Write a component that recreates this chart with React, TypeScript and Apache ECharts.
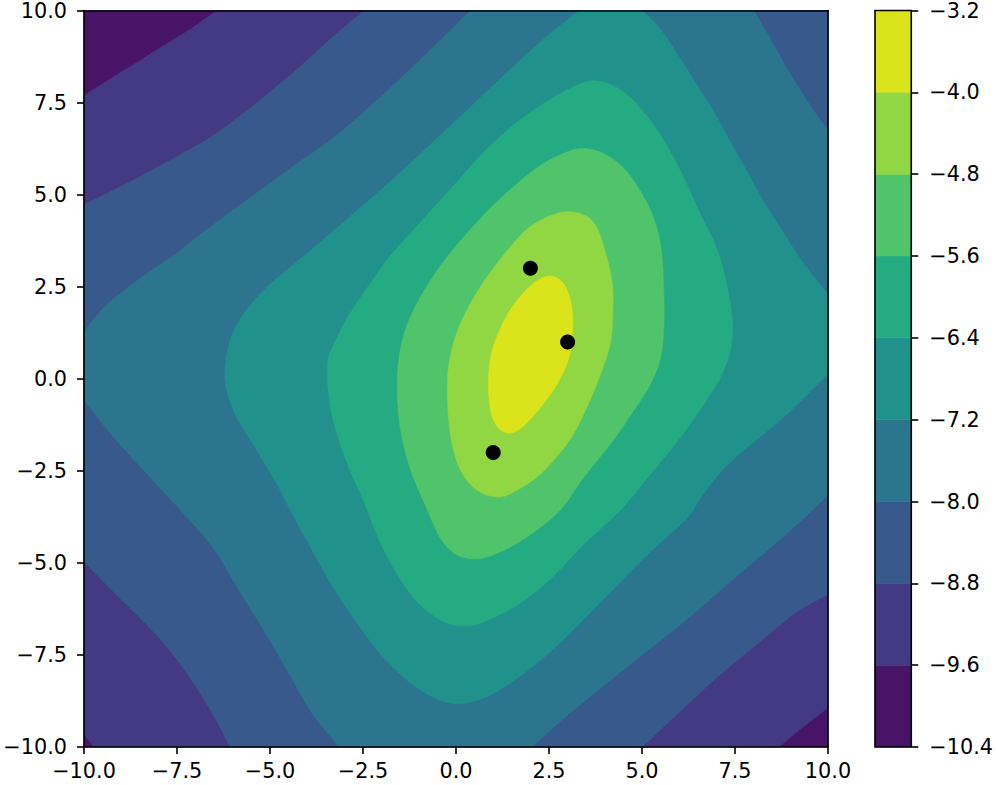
import React, { useEffect, useRef } from "react";
import * as echarts from "echarts";

// contour levels and band colours (viridis)
const levels = [-10.4, -9.6, -8.8, -8.0, -7.2, -6.4, -5.6, -4.8, -4.0, -3.2];
const bandColors = ["#481467", "#443983", "#38598c", "#2b758e", "#21918c", "#25ab82", "#50c46a", "#90d743", "#dbe31a"];

// plot extent
const domain: number[][] = [[-10, -10], [10, -10], [10, 10], [-10, 10]];

// superlevel regions (region where value >= level)
const regionAbove96: number[][] = [
  [-10, 7.69], [-9.3, 8.14], [-8.58, 8.59], [-7.87, 9.04], [-7.15, 9.49], [-6.43, 10],
  [10, 10], [10, -8.94], [9.35, -9.44], [8.68, -10], [-9.73, -10], [-10, -9.67],
];
const regionAbove88: number[][] = [
  [-10, 4.73], [-8.76, 5.35], [-7.6, 5.98], [-6.52, 6.61], [-5.45, 7.42], [-4.37, 8.32], [-3.23, 9.36], [-2.47, 10],
  [10, 10], [10, -5.86], [9.17, -6.33], [8.28, -7.05], [7.2, -7.95], [6.13, -8.94], [5.01, -10],
  [-6.08, -10], [-6.43, -9.3], [-6.97, -8.4], [-7.6, -7.5], [-8.31, -6.69], [-9.21, -5.79], [-10, -4.97],
];
const regionAbove80: number[][] = [
  [-10, 1.3], [-9.4, 2.0], [-8.6, 2.65], [-7.6, 3.35], [-6.5, 4.2], [-5.45, 4.98], [-4.37, 5.78],
  [-3.25, 6.58], [-2.2, 7.5], [-1.04, 8.59], [0.39, 10],
  [8.01, 10], [8.46, 9.22], [8.91, 8.41], [9.35, 7.69], [9.71, 7.15], [10, 6.74],
  [10, -3.16], [9.5, -3.65], [8.64, -4.43], [7.47, -5.43], [6.13, -6.6], [4.78, -7.68], [3.46, -8.76], [2.81, -9.3], [2.05, -10],
  [-3.15, -10], [-3.84, -9.13], [-4.37, -8.22], [-5.09, -6.96], [-5.81, -5.79], [-6.52, -4.61], [-7.42, -3.56],
  [-8.31, -2.58], [-9.21, -1.58], [-10, -0.59],
];
const regionAbove72: number[][] = [
  [3.31, 10], [5.01, 10], [5.5, 9.49], [6.04, 8.68], [6.49, 7.96], [6.94, 7.24], [7.38, 6.43], [7.83, 5.62],
  [8.28, 4.8], [8.73, 4.08], [9.2, 3.34], [9.6, 2.8], [10, 2.3], [10, 0.13],
  [8.82, -1.04], [7.74, -1.94], [7.1, -2.55], [6.6, -3.2], [6.2, -3.8], [5.23, -4.7], [4.34, -5.61], [3.46, -6.51],
  [2.55, -7.41], [1.65, -8.13], [0.75, -8.67], [-0.14, -8.81], [-1.04, -8.4], [-1.85, -7.68], [-2.56, -6.78], [-3.28, -5.7],
  [-3.9, -4.6], [-4.46, -3.56], [-4.82, -2.85], [-5.36, -1.94], [-5.9, -1.04], [-6.16, -0.32], [-6.21, 0.22],
  [-6.08, 1.03], [-5.72, 1.75], [-5.09, 2.48], [-4.19, 3.25], [-3.2, 4.1], [-1.67, 5.45], [-0.05, 6.97], [1.56, 8.5], [2.45, 9.31],
];
const regionAbove64: number[][] = [
  [-3.46, 0.04], [-3.43, 0.58], [-3.28, 0.94], [-2.92, 1.66], [-2.38, 2.48], [-1.78, 3.32], [-0.95, 4.26], [-0.14, 5.16],
  [0.75, 6.16], [1.65, 6.97], [2.55, 7.6], [3.46, 8.05], [3.98, 8.05], [4.52, 7.78], [5.05, 7.24], [5.5, 6.61], [5.86, 5.98],
  [6.22, 5.26], [6.58, 4.44], [6.94, 3.72], [7.15, 3.1], [7.33, 2.3], [7.43, 1.48], [7.38, 0.76], [7.11, 0.04], [6.67, -0.68],
  [6.04, -1.58], [5.32, -2.48], [4.43, -3.56], [3.46, -4.47], [2.55, -5.43], [1.65, -6.15], [0.75, -6.6], [0.3, -6.71],
  [-0.32, -6.6], [-1.04, -6.06], [-1.67, -5.16], [-2.12, -4.25], [-2.45, -3.4], [-2.92, -2.31], [-3.28, -1.22], [-3.4, -0.59],
];
const regionAbove56: number[][] = [
  [-1.58, -0.32], [-1.53, 0.58], [-1.31, 1.48], [-0.86, 2.39], [-0.23, 3.32], [0.57, 4.26], [1.38, 5.07], [2.28, 5.8],
  [2.99, 6.16], [3.46, 6.25], [3.98, 6.11], [4.52, 5.71], [4.97, 5.07], [5.32, 4.35], [5.52, 3.5], [5.58, 2.5],
  [5.59, 1.48], [5.5, 0.58], [5.23, -0.14], [4.78, -0.86], [4.16, -1.76], [3.44, -2.67], [2.81, -3.56],
  [2.1, -4.16], [1.38, -4.61], [0.66, -4.88], [0.04, -4.79], [-0.41, -4.34], [-0.77, -3.56], [-1.22, -2.48], [-1.49, -1.4],
];
const regionAbove48: number[][] = [
  [-0.19, 0.4], [0.04, 1.3], [0.48, 2.21], [1.02, 3.02], [1.74, 3.9], [2.28, 4.31], [2.9, 4.53],
  [3.46, 4.44], [3.8, 4.08], [4.05, 3.3], [4.2, 2.6], [4.22, 1.94], [4.16, 1.03], [3.89, 0.13], [3.44, -0.95],
  [2.99, -1.76], [2.28, -2.58], [1.56, -3.07], [1.11, -3.21], [0.57, -3.03], [0.12, -2.48], [-0.14, -1.58], [-0.23, -0.5],
];
const regionAbove40: number[][] = [
  [2.55, 2.79], [2.9, 2.57], [3.1, 2.02], [3.14, 1.3], [3.04, 0.58], [2.72, -0.14], [2.28, -0.77], [1.83, -1.27],
  [1.47, -1.48], [1.16, -1.36], [0.95, -0.95], [0.87, -0.23], [0.93, 0.58], [1.16, 1.3], [1.56, 2.02], [2.1, 2.61],
];

const regions = [domain, regionAbove96, regionAbove88, regionAbove80, regionAbove72, regionAbove64, regionAbove56, regionAbove48, regionAbove40];

// the three points
const pointsX = [2, 3, 1];
const pointsY = [3, 1, -2];

const FONT = "DejaVu Sans";
const FS = 20.8;
const fmt = (v: number) => {
  const s = (Math.round(v * 10) / 10).toFixed(1);
  return s === "-0.0" ? "0.0" : s.replace("-", "\u2212");
};

// closed smooth outline through pixel points; segments along the frame stay straight
function outline(px: number[][], onEdge: boolean[]): string {
  const n = px.length;
  const P = (i: number) => px[((i % n) + n) % n];
  const E = (i: number) => onEdge[((i % n) + n) % n];
  let d = `M${P(0)[0]},${P(0)[1]}`;
  for (let i = 0; i < n; i++) {
    const a = P(i), b = P(i + 1);
    if (E(i) && E(i + 1)) {
      d += `L${b[0]},${b[1]}`;
      continue;
    }
    const prev = P(i - 1), next = P(i + 2);
    const c1 = E(i)
      ? [a[0] + (b[0] - a[0]) / 3, a[1] + (b[1] - a[1]) / 3]
      : [a[0] + (b[0] - prev[0]) / 6, a[1] + (b[1] - prev[1]) / 6];
    const c2 = E(i + 1)
      ? [b[0] - (b[0] - a[0]) / 3, b[1] - (b[1] - a[1]) / 3]
      : [b[0] - (next[0] - a[0]) / 6, b[1] - (next[1] - a[1]) / 6];
    d += `C${c1[0]},${c1[1]} ${c2[0]},${c2[1]} ${b[0]},${b[1]}`;
  }
  return d + "Z";
}

export default function App() {
  const ref = useRef<HTMLDivElement>(null);
  useEffect(() => {
    const chart = echarts.init(ref.current!, undefined, { renderer: "svg" });
    const lineStyle = { color: "#000", width: 1.6 };
    const axisLabel = { fontFamily: FONT, fontSize: FS, color: "#000", formatter: fmt };
    const bands = bandColors.map((c, i) => [levels[i], levels[i + 1], i]);
    chart.setOption({
      animation: false,
      grid: [
        { left: 84, top: 8, width: 744, height: 739 },
        { left: 875, top: 8, width: 37, height: 739 },
      ],
      xAxis: [
        {
          type: "value", gridIndex: 0, min: -10, max: 10, interval: 2.5, position: "bottom", z: 10,
          axisLine: { show: true, onZero: false, lineStyle },
          axisTick: { show: true, length: 7, lineStyle },
          axisLabel: { ...axisLabel, margin: 13 },
          splitLine: { show: false },
        },
        {
          type: "value", gridIndex: 0, min: -10, max: 10, position: "top", z: 10,
          axisLine: { show: true, onZero: false, lineStyle },
          axisTick: { show: false }, axisLabel: { show: false }, splitLine: { show: false },
        },
        { type: "value", gridIndex: 1, min: 0, max: 1, show: false },
      ],
      yAxis: [
        {
          type: "value", gridIndex: 0, min: -10, max: 10, interval: 2.5, position: "left", z: 10,
          axisLine: { show: true, onZero: false, lineStyle },
          axisTick: { show: true, length: 7, lineStyle },
          axisLabel: { ...axisLabel, margin: 17 },
          splitLine: { show: false },
        },
        {
          type: "value", gridIndex: 0, min: -10, max: 10, position: "right", z: 10,
          axisLine: { show: true, onZero: false, lineStyle },
          axisTick: { show: false }, axisLabel: { show: false }, splitLine: { show: false },
        },
        {
          type: "value", gridIndex: 1, min: -10.4, max: -3.2, interval: 0.8, position: "right", z: 10,
          axisLine: { show: false, onZero: false },
          axisTick: { show: true, length: 7, lineStyle },
          axisLabel: { ...axisLabel, margin: 18, showMaxLabel: true, showMinLabel: true },
          splitLine: { show: false },
        },
      ],
      series: [
        {
          type: "custom",
          xAxisIndex: 0, yAxisIndex: 0,
          silent: true,
          z: 1,
          data: regions.map((_, i) => [0, 0, i]),
          renderItem: (params: any, api: any) => {
            const poly = regions[params.dataIndex];
            const pts = poly.map((p) => api.coord(p));
            const edge = poly.map((p) => Math.abs(p[0]) >= 9.999 || Math.abs(p[1]) >= 9.999);
            const c = bandColors[params.dataIndex];
            return {
              type: "path",
              shape: { pathData: outline(pts, edge) },
              style: { fill: c, stroke: c, lineWidth: 0.5 },
            };
          },
        },
        {
          type: "scatter",
          xAxisIndex: 0, yAxisIndex: 0,
          z: 5,
          symbolSize: 15,
          itemStyle: { color: "#000", opacity: 1 },
          data: pointsX.map((x, i) => [x, pointsY[i]]),
        },
        {
          type: "custom",
          xAxisIndex: 2, yAxisIndex: 2,
          silent: true,
          z: 1,
          data: bands,
          renderItem: (params: any, api: any) => {
            const lo = api.value(0);
            const hi = api.value(1);
            const a = api.coord([0, hi]);
            const b = api.coord([1, lo]);
            const c = bandColors[params.dataIndex];
            return {
              type: "rect",
              shape: { x: a[0], y: a[1], width: b[0] - a[0], height: b[1] - a[1] },
              style: { fill: c, stroke: c, lineWidth: 0.5 },
            };
          },
        },
        {
          type: "custom",
          xAxisIndex: 2, yAxisIndex: 2,
          silent: true,
          z: 6,
          data: [[levels[0], levels[levels.length - 1]]],
          renderItem: (params: any, api: any) => {
            const a = api.coord([0, api.value(1)]);
            const b = api.coord([1, api.value(0)]);
            return {
              type: "rect",
              shape: { x: a[0], y: a[1], width: b[0] - a[0], height: b[1] - a[1] },
              style: { fill: "none", stroke: "#000", lineWidth: 1.6 },
            };
          },
        },
      ],
    });
    return () => chart.dispose();
  }, []);
  return (
    <div
      ref={ref}
      style={{ position: "absolute", left: 0, top: 0, width: 996, height: 785, background: "#fff" }}
    />
  );
}
